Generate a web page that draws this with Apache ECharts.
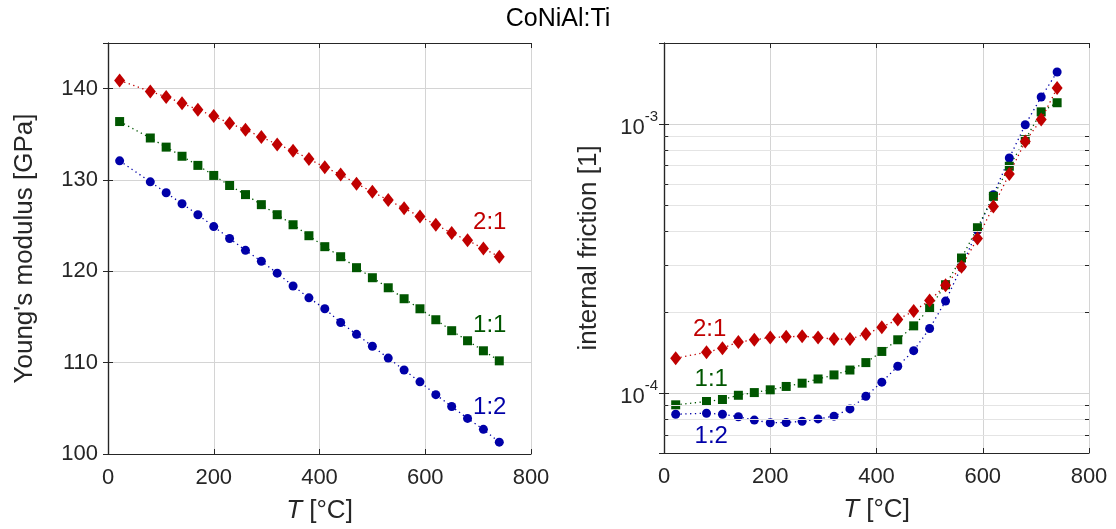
<!DOCTYPE html>
<html>
<head>
<meta charset="utf-8">
<script src="https://cdn.jsdelivr.net/npm/echarts@6/dist/echarts.min.js"></script>
<style>
html,body{margin:0;padding:0;background:#fff;}
#chart{width:1116px;height:529px;}
</style>
</head>
<body>
<div id="chart"></div>
<script>
// ---- data ----
const temps = [22, 80, 110, 140, 170, 200, 230, 260, 290, 320, 350, 380, 410, 440, 470, 500, 530, 560, 590, 620, 650, 680, 710, 740];

const modulus21 = [140.9, 139.7, 139.1, 138.4, 137.7, 137.0, 136.2, 135.5, 134.7, 133.9, 133.2, 132.3, 131.4, 130.6, 129.6, 128.7, 127.8, 126.9, 126.0, 125.1, 124.2, 123.4, 122.5, 121.6];
const modulus11 = [136.4, 134.6, 133.6, 132.6, 131.6, 130.5, 129.4, 128.4, 127.3, 126.2, 125.1, 123.9, 122.7, 121.6, 120.4, 119.3, 118.2, 117.0, 115.9, 114.7, 113.5, 112.4, 111.3, 110.2];
const modulus12 = [132.1, 129.8, 128.6, 127.4, 126.2, 124.9, 123.6, 122.3, 121.1, 119.8, 118.4, 117.1, 115.9, 114.4, 113.1, 111.8, 110.5, 109.2, 107.9, 106.5, 105.2, 103.9, 102.7, 101.3];

const friction21 = [1.35e-4, 1.42e-4, 1.47e-4, 1.55e-4, 1.58e-4, 1.61e-4, 1.62e-4, 1.63e-4, 1.61e-4, 1.59e-4, 1.59e-4, 1.66e-4, 1.76e-4, 1.88e-4, 2.02e-4, 2.21e-4, 2.52e-4, 2.95e-4, 3.76e-4, 4.94e-4, 6.53e-4, 8.61e-4, 1.04e-3, 1.36e-3];
const friction11 = [9.06e-5, 9.32e-5, 9.48e-5, 9.83e-5, 1.006e-4, 1.03e-4, 1.06e-4, 1.09e-4, 1.13e-4, 1.17e-4, 1.22e-4, 1.30e-4, 1.43e-4, 1.58e-4, 1.78e-4, 2.07e-4, 2.53e-4, 3.18e-4, 4.12e-4, 5.39e-4, 6.97e-4, 8.75e-4, 1.11e-3, 1.20e-3];
const friction12 = [8.36e-5, 8.43e-5, 8.36e-5, 8.18e-5, 7.95e-5, 7.77e-5, 7.79e-5, 7.87e-5, 8.03e-5, 8.22e-5, 8.75e-5, 9.75e-5, 1.10e-4, 1.26e-4, 1.44e-4, 1.74e-4, 2.20e-4, 2.95e-4, 4.03e-4, 5.46e-4, 7.48e-4, 9.94e-4, 1.26e-3, 1.56e-3];

const seriesNames = ['1:2', '1:1', '2:1'];
// annotation anchors in data units [T, value]
const modulusLabelPos = [[722, 105.1], [722, 114.1], [722, 125.4]];
const frictionLabelPos = [[89, 6.92e-5], [89, 1.125e-4], [86, 1.73e-4]];

const xTicks = [0, 200, 400, 600, 800];
const modulusTicks = [100, 110, 120, 130, 140];
const frictionMinorGrid = [7e-5, 8e-5, 9e-5, 2e-4, 3e-4, 4e-4, 5e-4, 6e-4, 7e-4, 8e-4, 9e-4];

// ---- styles ----
const FONT = '"Liberation Sans", Arial, Helvetica, sans-serif';
const colors = ['#0000a8', '#005600', '#c00000'];
const symbols = ['circle', 'rect', 'diamond'];
const symbolSizes = [9, 9, [11, 14]];
const AXIS_COLOR = '#262626';
const GRID_COLOR = '#d4d4d4';
const MINOR_COLOR = '#e4e4e4';

function pairs(xs, ys) { return xs.map((x, i) => [x, ys[i]]); }

function xAxisDef(gridIndex, top) {
  return {
    type: 'value', gridIndex: gridIndex, position: top ? 'top' : 'bottom',
    min: xTicks[0], max: xTicks[xTicks.length - 1], interval: xTicks[1] - xTicks[0],
    axisLine: { show: true, onZero: false, lineStyle: { color: AXIS_COLOR, width: 1.2 } },
    axisTick: { show: true, inside: true, length: 5, lineStyle: { color: AXIS_COLOR } },
    axisLabel: top ? { show: false } : { show: true, fontSize: 22, color: '#262626', margin: 13, fontFamily: FONT },
    splitLine: top ? { show: false } : { show: true, lineStyle: { color: GRID_COLOR, width: 1 } },
    name: top ? '' : '{i|T} [°C]',
    nameLocation: 'middle', nameGap: 44,
    nameTextStyle: { fontSize: 26, color: '#262626', fontFamily: FONT,
      rich: { i: { fontSize: 26, fontStyle: 'italic', color: '#262626', fontFamily: FONT } } }
  };
}

const powFmt = function (v) {
  const l = Math.log10(v);
  const e = Math.round(l);
  if (Math.abs(l - e) > 1e-6) return '';
  return '{b|10}{s|' + e + '}';
};

const option = {
  animation: false,
  backgroundColor: '#ffffff',
  textStyle: { fontFamily: FONT },
  title: {
    text: 'CoNiAl:Ti', left: 'center', top: 2,
    textStyle: { fontSize: 25, fontWeight: 'normal', color: '#000', fontFamily: FONT }
  },
  grid: [
    { left: 108, top: 43, width: 423, height: 411, containLabel: false },
    { left: 664, top: 43, width: 425, height: 410, containLabel: false }
  ],
  xAxis: [xAxisDef(0, false), xAxisDef(0, true), xAxisDef(1, false), xAxisDef(1, true)],
  yAxis: [
    {
      type: 'value', gridIndex: 0, position: 'left',
      min: modulusTicks[0], max: 145, interval: modulusTicks[1] - modulusTicks[0],
      axisLine: { show: true, lineStyle: { color: AXIS_COLOR, width: 1.2 } },
      axisTick: { show: true, inside: true, length: 5, lineStyle: { color: AXIS_COLOR } },
      axisLabel: { fontSize: 22, color: '#262626', margin: 10, fontFamily: FONT, showMaxLabel: false,
        formatter: v => (modulusTicks.indexOf(v) >= 0 ? String(v) : '') },
      splitLine: { show: true, lineStyle: { color: GRID_COLOR, width: 1 } },
      name: "Young's modulus [GPa]", nameLocation: 'middle', nameGap: 70, nameRotate: 90,
      nameTextStyle: { fontSize: 26, color: '#262626', fontFamily: FONT }
    },
    {
      type: 'value', gridIndex: 0, position: 'right',
      min: modulusTicks[0], max: 145, interval: modulusTicks[1] - modulusTicks[0],
      axisLine: { show: true, lineStyle: { color: AXIS_COLOR, width: 1.2 } },
      axisTick: { show: true, inside: true, length: 5, lineStyle: { color: AXIS_COLOR } },
      axisLabel: { show: false }, splitLine: { show: false }
    },
    {
      type: 'log', logBase: 10, gridIndex: 1, position: 'left',
      min: 6e-5, max: 2e-3,
      axisLine: { show: true, lineStyle: { color: AXIS_COLOR, width: 1.2 } },
      axisTick: { show: true, inside: true, length: 5, lineStyle: { color: AXIS_COLOR } },
      axisLabel: { fontSize: 22, color: '#262626', margin: 6, fontFamily: FONT, showMinLabel: false, showMaxLabel: false,
        formatter: powFmt,
        rich: {
          b: { fontSize: 22, color: '#262626', fontFamily: FONT, lineHeight: 30, verticalAlign: 'bottom' },
          s: { fontSize: 15, color: '#262626', fontFamily: FONT, lineHeight: 15, verticalAlign: 'top' }
        } },
      splitLine: { show: true, lineStyle: { color: GRID_COLOR, width: 1 } },
      name: 'internal friction [1]', nameLocation: 'middle', nameGap: 62, nameRotate: 90,
      nameTextStyle: { fontSize: 26, color: '#262626', fontFamily: FONT }
    },
    {
      type: 'log', logBase: 10, gridIndex: 1, position: 'right',
      min: 6e-5, max: 2e-3,
      axisLine: { show: true, lineStyle: { color: AXIS_COLOR, width: 1.2 } },
      axisTick: { show: true, inside: true, length: 5, lineStyle: { color: AXIS_COLOR } },
      axisLabel: { show: false }, splitLine: { show: false }
    }
  ],
  series: []
};

// minor log gridlines and minor ticks (beneath data)
const xMin = xTicks[0], xMax = xTicks[xTicks.length - 1];
const minorTickLen = (xMax - xMin) * 4 / 425;
const minorLineData = [];
frictionMinorGrid.forEach(v => {
  minorLineData.push([{ coord: [xMin, v], lineStyle: { color: MINOR_COLOR, width: 1, type: 'solid' } }, { coord: [xMax, v] }]);
});
frictionMinorGrid.forEach(v => {
  minorLineData.push([{ coord: [xMin + 0.5, v], lineStyle: { color: AXIS_COLOR, width: 1, type: 'solid' } }, { coord: [xMin + minorTickLen + 0.5, v] }]);
  minorLineData.push([{ coord: [xMax - minorTickLen, v], lineStyle: { color: AXIS_COLOR, width: 1, type: 'solid' } }, { coord: [xMax, v] }]);
});
option.series.push({
  type: 'line', xAxisIndex: 2, yAxisIndex: 2, data: [[xMin, 1e-4]], z: 1, silent: true,
  showSymbol: false, symbolSize: 0, lineStyle: { width: 0, opacity: 0 },
  markLine: {
    silent: true, symbol: ['none', 'none'], animation: false,
    label: { show: false },
    lineStyle: { color: MINOR_COLOR, width: 1, type: 'solid' },
    data: minorLineData
  }
});

const modulusData = [modulus12, modulus11, modulus21];
const frictionData = [friction12, friction11, friction21];

function addSeries(axisIdx, dataSets, labelPos) {
  dataSets.forEach((ys, k) => {
    option.series.push({
      type: 'line', name: seriesNames[k], xAxisIndex: axisIdx, yAxisIndex: axisIdx,
      data: pairs(temps, ys), z: 3 + k,
      symbol: symbols[k], symbolSize: symbolSizes[k], showSymbol: true,
      itemStyle: { color: colors[k] },
      lineStyle: { color: colors[k], width: 1.3, type: [1.3, 3.5] },
      markPoint: {
        symbol: 'circle', symbolSize: 0, silent: true, animation: false,
        label: { show: true, position: 'inside', formatter: seriesNames[k], fontSize: 24,
          color: colors[k], fontFamily: FONT },
        data: [{ coord: labelPos[k] }]
      }
    });
  });
}
addSeries(0, modulusData, modulusLabelPos);
addSeries(2, frictionData, frictionLabelPos);

const chart = echarts.init(document.getElementById('chart'), null, { renderer: 'canvas' });
chart.setOption(option);
</script>
</body>
</html>
